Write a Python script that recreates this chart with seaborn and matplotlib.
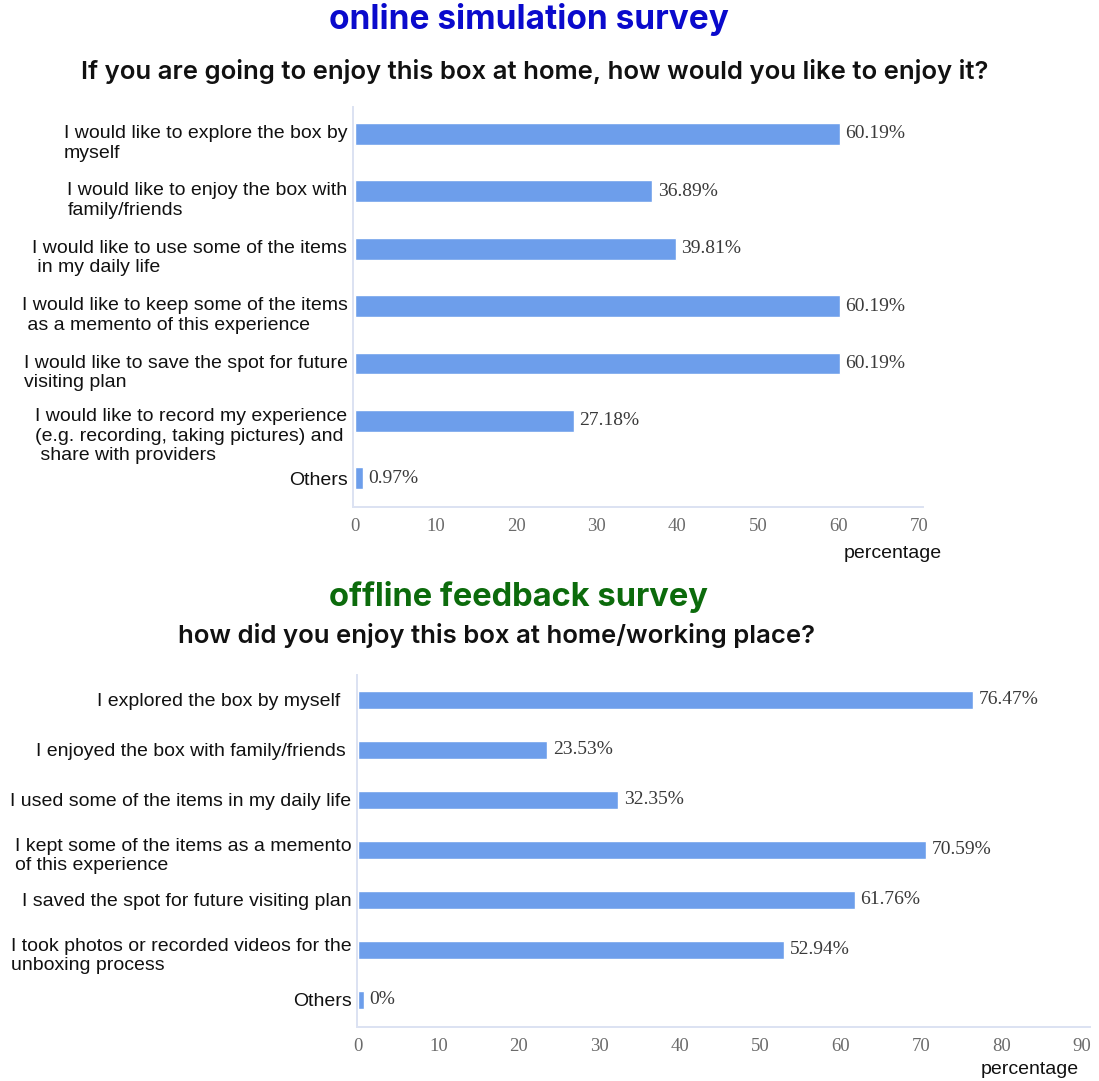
import matplotlib
matplotlib.use("Agg")
import matplotlib.pyplot as plt
import matplotlib.transforms as mtransforms
import seaborn as sns
import pandas as pd

# ---- data ----
online_labels = [
    "I would like to explore the box by\nmyself",
    "I would like to enjoy the box with\nfamily/friends",
    "I would like to use some of the items\n in my daily life",
    "I would like to keep some of the items\n as a memento of this experience",
    "I would like to save the spot for future\nvisiting plan",
    "I would like to record my experience\n(e.g. recording, taking pictures) and\n share with providers",
    "Others",
]
online_values = [60.19, 36.89, 39.81, 60.19, 60.19, 27.18, 0.97]

offline_labels = [
    "I explored the box by myself  ",
    "I enjoyed the box with family/friends ",
    "I used some of the items in my daily life",
    "I kept some of the items as a memento\nof this experience",
    "I saved the spot for future visiting plan",
    "I took photos or recorded videos for the\nunboxing process",
    "Others",
]
offline_values = [76.47, 23.53, 32.35, 70.59, 61.76, 52.94, 0]

online_ticks = [0, 10, 20, 30, 40, 50, 60, 70]
offline_ticks = [0, 10, 20, 30, 40, 50, 60, 70, 80, 90]

# ---- style ----
W, H = 1099, 1081
BAR = "#6d9eeb"
SPINE = "#dce2f2"
sns.set_style("white")
plt.rcParams["font.family"] = ["Liberation Sans", "DejaVu Sans"]

fig = plt.figure(figsize=(W / 100, H / 100), dpi=100)


def px_axes(left, top, right, bottom):
    return fig.add_axes([left / W, 1 - bottom / H, (right - left) / W, (bottom - top) / H])


def draw_panel(ax, labels, values, ticks, xlim, ylim, bar_h, shift_per_line):
    df = pd.DataFrame({"label": labels, "value": values})
    sns.barplot(data=df, x="value", y="label", orient="h", color=BAR,
                width=bar_h, saturation=1, ax=ax)
    cont = ax.containers[0]
    # keep a thin visible stub for empty categories
    for p in cont.patches:
        if p.get_width() < 0.7:
            p.set_width(0.7)
    ax.bar_label(cont, labels=[f"{v:g}%" for v in values], padding=4,
                 fontsize=14, color="#3a3a3a", family="Liberation Serif")
    ax.set_xlim(*xlim)
    ax.set_ylim(*ylim)
    ax.set_xticks(ticks)
    ax.set_xticklabels([str(t) for t in ticks], family="Liberation Serif",
                       color="#6b6b6b", fontsize=13.5)
    ax.tick_params(axis="x", length=0, pad=8)
    ax.tick_params(axis="y", length=0, pad=4, labelsize=14, labelcolor="#111111")
    for lbl in ax.get_yticklabels():
        lbl.set_multialignment("left")
        lbl.set_linespacing(1.2)
        n = lbl.get_text().count("\n")
        if n:
            off = mtransforms.ScaledTranslation(0, -shift_per_line * n / 100, fig.dpi_scale_trans)
            lbl.set_transform(lbl.get_transform() + off)
    ax.set_xlabel("")
    ax.set_ylabel("")
    sns.despine(ax=ax, top=True, right=True)
    for s in ("left", "bottom"):
        ax.spines[s].set_color(SPINE)
        ax.spines[s].set_linewidth(1.4)


ax1 = px_axes(353, 107, 923, 507)
draw_panel(ax1, online_labels, online_values, online_ticks,
           (-0.25, 70.5), (6.5, -0.47), 0.38, 6)

ax2 = px_axes(357, 675, 1090, 1027)
draw_panel(ax2, offline_labels, offline_values, offline_ticks,
           (-0.12, 91.0), (6.55, -0.5), 0.36, 3)

# ---- titles and axis captions ----
fig.text(529 / W, 1 - 20 / H, "online simulation survey", ha="center", va="center",
         fontsize=24, fontweight="bold", color="#0a0acc", family="Inter")
fig.text(535 / W, 1 - 72 / H, "If you are going to enjoy this box at home, how would you like to enjoy it?",
         ha="center", va="center", fontsize=18.5, fontweight="semibold", color="#111111", family="Inter")
fig.text(518 / W, 1 - 597 / H, "offline feedback survey", ha="center", va="center",
         fontsize=23.5, fontweight="bold", color="#0c6b0c", family="Inter")
fig.text(496 / W, 1 - 636 / H, "how did you enjoy this box at home/working place?",
         ha="center", va="center", fontsize=18.5, fontweight="semibold", color="#111111", family="Inter")

fig.text(893 / W, 1 - 553 / H, "percentage", ha="center", va="center", fontsize=14, color="#111111")
fig.text(1030 / W, 1 - 1070 / H, "percentage", ha="center", va="center", fontsize=14, color="#111111")

fig.savefig("out.png", dpi=100, facecolor="white")
